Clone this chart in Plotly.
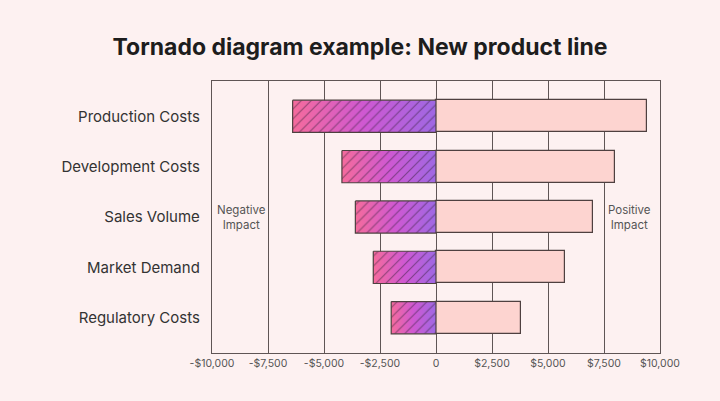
import plotly.graph_objects as go

# ---- data -----------------------------------------------------------
factors = ["Production Costs", "Development Costs", "Sales Volume",
           "Market Demand", "Regulatory Costs"]
negative_impact = [-6400, -4200, -3600, -2800, -2000]
positive_impact = [9400, 8000, 7000, 5750, 3800]

tick_values = [-10000, -7500, -5000, -2500, 0, 2500, 5000, 7500, 10000]
tick_labels = ["-$10,000", "-$7,500", "-$5,000", "-$2,500", "0",
               "$2,500", "$5,000", "$7,500", "$10,000"]

BG = "#fdf1f1"
GRID = "#5f5555"
EDGE = "#4e4040"
HALF = 0.32  # half bar thickness in category units

rows = list(range(len(factors)))

fig = go.Figure()

# positive side: plain pale bars
fig.add_trace(go.Bar(
    x=positive_impact, y=rows, orientation="h", width=2 * HALF,
    marker=dict(color="#fdd4d0", line=dict(color=EDGE, width=1.2)),
    hoverinfo="x+y", showlegend=False,
))

# negative side: gradient fill (one shape per bar so each gets its own ramp)
for i, v in zip(rows, negative_impact):
    fig.add_trace(go.Scatter(
        x=[v, 0, 0, v, v],
        y=[i - HALF, i - HALF, i + HALF, i + HALF, i - HALF],
        mode="lines", fill="toself", line=dict(width=0),
        fillgradient=dict(
            type="horizontal",
            colorscale=[[0, "#f56b9c"], [0.5, "#cf58d2"], [1, "#9f68e3"]],
        ),
        hoverinfo="skip", showlegend=False,
    ))

# hatching + outline on top of the gradient
hx, hy = [], []
for i, v in zip(rows, negative_impact):
    hx += [v, 0, 0, v, v, None]
    hy += [i - HALF, i - HALF, i + HALF, i + HALF, i - HALF, None]
fig.add_trace(go.Scatter(
    x=hx, y=hy, mode="lines", fill="toself",
    fillcolor="rgba(0,0,0,0)",
    fillpattern=dict(shape="/", fgcolor="#35203a", size=7, solidity=0.16),
    line=dict(color=EDGE, width=1.2),
    hoverinfo="skip", showlegend=False,
))

for label, xpos in [("Negative<br>Impact", 0.065), ("Positive<br>Impact", 0.931)]:
    fig.add_annotation(text=label, x=xpos, xref="paper", xanchor="center",
                       y=2, yref="y", showarrow=False,
                       font=dict(size=11.5, color="#555"))

fig.update_layout(
    width=720, height=401,
    paper_bgcolor=BG, plot_bgcolor=BG,
    margin=dict(l=212, r=60, t=81, b=48),
    font=dict(family="Inter, Roboto, sans-serif", color="#333"),
    title=dict(text="<b>Tornado diagram example: New product line</b>",
               x=0.5, xanchor="center", y=0.883, yanchor="middle",
               font=dict(size=23, color="#1d1d1d")),
    bargap=0,
)
fig.update_xaxes(
    range=[-10000, 10000], tickvals=tick_values, ticktext=tick_labels,
    tickfont=dict(size=10.5, color="#555"),
    showgrid=True, gridcolor=GRID, gridwidth=1.3,
    zeroline=True, zerolinecolor=GRID, zerolinewidth=1.3,
    showline=True, linecolor=GRID, linewidth=1.3, mirror=True,
    ticks="", fixedrange=True,
)
fig.update_yaxes(
    range=[len(factors) - 0.3, -0.7], tickvals=rows, ticktext=factors,
    tickfont=dict(size=15, color="#333"), ticklabelstandoff=8,
    showgrid=False, zeroline=False,
    showline=True, linecolor=GRID, linewidth=1.3, mirror=True,
    ticks="", fixedrange=True,
)

# drop the browser's default body margin so the pink fills the window
fig.write_html("out.html", config={"displayModeBar": False},
               post_script="document.body.style.margin='0';")
